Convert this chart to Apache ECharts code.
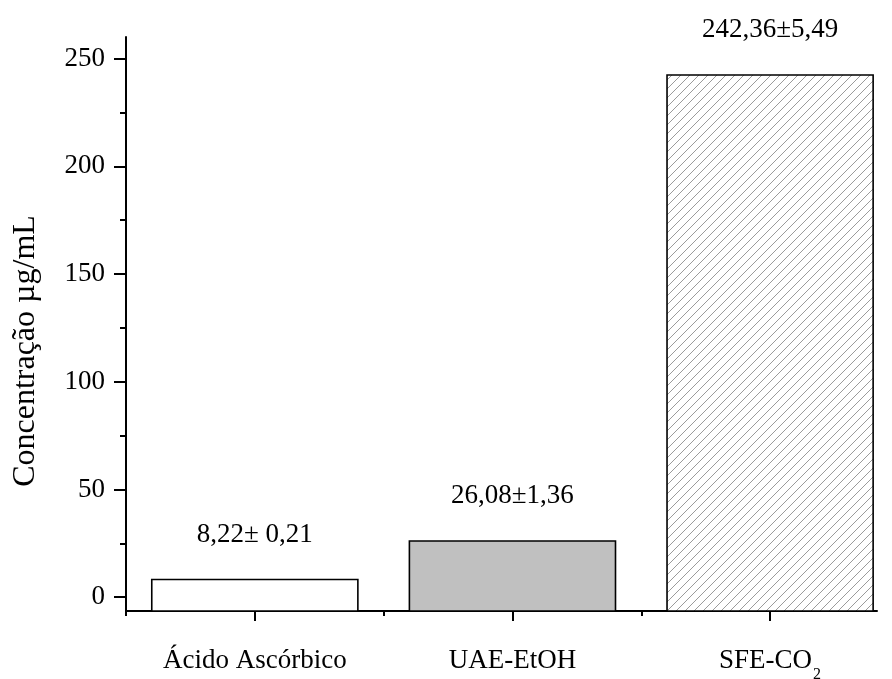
<!DOCTYPE html>
<html>
<head>
<meta charset="utf-8">
<script src="https://cdn.jsdelivr.net/npm/echarts@6/dist/echarts.min.js"></script>
<style>
  html, body { margin: 0; padding: 0; background: #fff; }
  #chart { width: 892px; height: 679px; }
</style>
</head>
<body>
<div id="chart"></div>
<script>
// Extraction results: concentration per extraction method
const categories = ['Ácido Ascórbico', 'UAE-EtOH', 'SFE-CO{sub|2}'];
const categoryPositions = [1, 3, 5];
const values = [8.22, 26.08, 242.36];
const deviations = [0.21, 1.36, 5.49];
const valueLabels = ['8,22± 0,21', '26,08±1,36', '242,36±5,49'];
const yMajorTicks = [0, 50, 100, 150, 200, 250];
const yMinorTicks = [25, 75, 125, 175, 225];
const yTitle = 'Concentração µg/mL';

const FONT = '"Liberation Serif", "DejaVu Serif", serif';

// Diagonal hatch tile for the third bar
function hatchTile() {
  const s = 9;
  const c = document.createElement('canvas');
  c.width = s; c.height = s;
  const g = c.getContext('2d');
  g.fillStyle = '#ffffff';
  g.fillRect(0, 0, s, s);
  g.strokeStyle = '#909090';
  g.lineWidth = 0.9;
  g.beginPath();
  g.moveTo(-1, s + 1); g.lineTo(s + 1, -1);
  g.moveTo(-1, 1); g.lineTo(1, -1);
  g.moveTo(s - 1, s + 1); g.lineTo(s + 1, s - 1);
  g.stroke();
  return c;
}

const fills = ['#ffffff', '#c0c0c0', { image: hatchTile(), repeat: 'repeat' }];

const chart = echarts.init(document.getElementById('chart'), null, { renderer: 'canvas' });

const catByPos = {};
categoryPositions.forEach((p, i) => { catByPos[p] = categories[i]; });

const option = {
  backgroundColor: '#ffffff',
  animation: false,
  grid: { left: 126, right: 15, top: 37, bottom: 68, containLabel: false, outerBoundsMode: 'none' },
  xAxis: [
    {
      type: 'value', min: 0, max: 5.83,
      axisLine: { show: true, onZero: false, lineStyle: { color: '#000', width: 2 } },
      axisTick: { show: true, length: 10, lineStyle: { color: '#000', width: 2 }, customValues: categoryPositions },
      axisLabel: {
        show: true, margin: 27, customValues: categoryPositions,
        formatter: v => catByPos[v] || '',
        color: '#000', fontFamily: FONT, fontSize: 27, lineHeight: 46,
        rich: { sub: { fontFamily: FONT, fontSize: 16, color: '#000', padding: [28, 0, 0, 1] } }
      },
      splitLine: { show: false }
    },
    {
      type: 'value', min: 0, max: 5.83, position: 'bottom',
      axisLine: { show: false, onZero: false },
      axisTick: { show: true, length: 5, lineStyle: { color: '#000', width: 2 }, customValues: [0, 2, 4] },
      axisLabel: { show: false },
      splitLine: { show: false }
    }
  ],
  yAxis: [
    {
      type: 'value', min: -6.4, max: 260,
      axisLine: { show: true, onZero: false, lineStyle: { color: '#000', width: 2 } },
      axisTick: { show: true, length: 12, lineStyle: { color: '#000', width: 2 }, customValues: yMajorTicks },
      axisLabel: { show: true, margin: 21, customValues: yMajorTicks, color: '#000', fontFamily: FONT, fontSize: 27 },
      splitLine: { show: false }
    },
    {
      type: 'value', min: -6.4, max: 260, position: 'left',
      axisLine: { show: false, onZero: false },
      axisTick: { show: true, length: 6, lineStyle: { color: '#000', width: 2 }, customValues: yMinorTicks },
      axisLabel: { show: false },
      splitLine: { show: false }
    }
  ],
  graphic: [{
    type: 'text', x: 26, y: 351, rotation: Math.PI / 2,
    style: { text: yTitle, fill: '#000', font: '32px ' + FONT, align: 'center', verticalAlign: 'middle' }
  }],
  series: [{
    type: 'custom',
    xAxisIndex: 0, yAxisIndex: 0,
    data: values.map((v, i) => [categoryPositions[i], v, deviations[i], i]),
    encode: { x: 0, y: 1 },
    renderItem: function (params, api) {
      const idx = api.value(3);
      const x = api.value(0);
      const v = api.value(1);
      const left = api.coord([x - 0.8, v]);
      const right = api.coord([x + 0.8, 0]);
      const top = left[1];
      const base = api.coord([x, -6.4])[1];
      const rect = { x: left[0], y: top, width: right[0] - left[0], height: base - top };
      const children = [
        { type: 'rect', shape: rect, style: { fill: fills[idx], stroke: 'none' } },
        { type: 'rect', shape: rect, style: { fill: 'none', stroke: '#000', lineWidth: 1.6 } },
        {
          type: 'text', x: api.coord([x, v])[0], y: top - 45,
          style: { text: valueLabels[idx], fill: '#000', font: '27px ' + FONT, align: 'center', verticalAlign: 'middle' }
        }
      ];
      return { type: 'group', children: children };
    }
  }]
};

chart.setOption(option);
</script>
</body>
</html>
